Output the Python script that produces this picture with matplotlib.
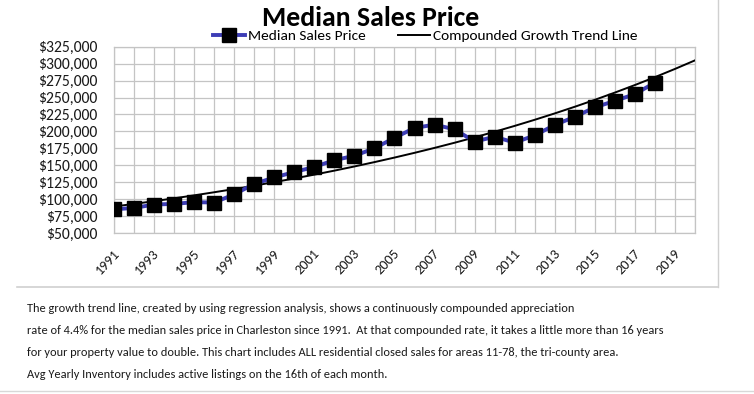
import numpy as np
import matplotlib
matplotlib.use("Agg")
import matplotlib.pyplot as plt
import matplotlib.transforms as mtransforms
from matplotlib.lines import Line2D

years = list(range(1991, 2019))
median_price = [85000, 87000, 92000, 93000, 95500, 95000, 107000, 122500,
                132000, 140000, 147500, 157500, 164000, 175000, 190500, 205000,
                210000, 203000, 185000, 192000, 183500, 194000, 209500, 221500,
                235500, 245000, 255000, 272000]
trend_years = list(range(1991, 2021))
ytick_values = list(range(50000, 325001, 25000))
xtick_years = list(range(1991, 2020, 2))

title = "Median Sales Price"
legend_labels = ["Median Sales Price", "Compounded Growth Trend Line"]
note_lines = [
    "The growth trend line, created by using regression analysis, shows a continuously compounded appreciation",
    "rate of 4.4% for the median sales price in Charleston since 1991.  At that compounded rate, it takes a little more than 16 years",
    "for your property value to double. This chart includes ALL residential closed sales for areas 11-78, the tri-county area.",
    "Avg Yearly Inventory includes active listings on the 16th of each month.",
]

# log-linear regression for the compounded growth trend
yr = np.array(years, dtype=float)
b, a = np.polyfit(yr - 1991, np.log(median_price), 1)
ty = np.array(trend_years, dtype=float)
trend = np.exp(a + b * (ty - 1991))

plt.rcParams['font.family'] = ['Carlito', 'DejaVu Sans']

W, H = 754, 394
fig = plt.figure(figsize=(W / 100, H / 100), dpi=100)
ax = fig.add_axes([114 / W, 1 - 233 / H, (695 - 114) / W, (233 - 46.7) / H])

blue = '#3d3db5'
grid_c = '#c4c4c4'

ax.plot(ty, trend, color='black', lw=1.4, zorder=3)
ax.plot(years, median_price, color=blue, lw=2.8, marker='s', ms=9.5,
        mfc='black', mec='black', zorder=4)

ax.set_xlim(1991, 2020)
ax.set_ylim(50000, 325000)
ax.set_yticks(ytick_values)
ax.set_yticklabels([f"${v:,.0f}" for v in ytick_values], fontsize=11.3, color='#1a1a1a')
ax.set_xticks(trend_years)
ax.set_xticklabels([str(y) if y in xtick_years else "" for y in trend_years],
                   rotation=47, ha='right', va='center', rotation_mode='anchor',
                   fontsize=10.3, color='#1a1a1a')
ax.tick_params(axis='x', length=0, pad=13)
ax.tick_params(axis='y', length=0, pad=12)
shift = mtransforms.ScaledTranslation(3 / 100, 0, fig.dpi_scale_trans)
for lab in ax.get_xticklabels():
    lab.set_transform(lab.get_transform() + shift)
ax.grid(True, color=grid_c, lw=0.9)
for s in ax.spines.values():
    s.set_color(grid_c)
    s.set_linewidth(0.9)

fig.text(371 / W, 1 - 18 / H, title, ha='center', va='center', fontsize=20,
         fontweight='bold', color='black')

handles = [Line2D([], [], color=blue, lw=2.8, marker='s', ms=9.5, mfc='black', mec='black'),
           Line2D([], [], color='black', lw=1.4)]
fig.legend(handles, legend_labels, loc='center', bbox_to_anchor=(425 / W, 1 - 36 / H),
           ncol=2, frameon=False, fontsize=11.1, handlelength=2.1, handletextpad=0.15,
           columnspacing=2.1, borderpad=0, borderaxespad=0)

# chart border
fig.add_artist(Line2D([718 / W, 718 / W], [1 - 0 / H, 1 - 287 / H], color='#d0d0d0', lw=1))
fig.add_artist(Line2D([17 / W, 718 / W], [1 - 287 / H, 1 - 287 / H], color='#d0d0d0', lw=1.2))
fig.add_artist(Line2D([0, 1], [1 - 391 / H, 1 - 391 / H], color='#d8d8d8', lw=1))

# notes: size chosen so the first line spans the same width as in the reference
ys = [308, 330, 353, 375]
notes = [fig.text(27 / W, 1 - y / H, t, ha='left', va='center', fontsize=10,
                  color='#1a1a1a') for t, y in zip(note_lines, ys)]
renderer = fig.canvas.get_renderer()
w0 = notes[0].get_window_extent(renderer).width
fs = 10 * 545 / w0
for n in notes:
    n.set_fontsize(fs)

fig.savefig('out.png', dpi=100)
